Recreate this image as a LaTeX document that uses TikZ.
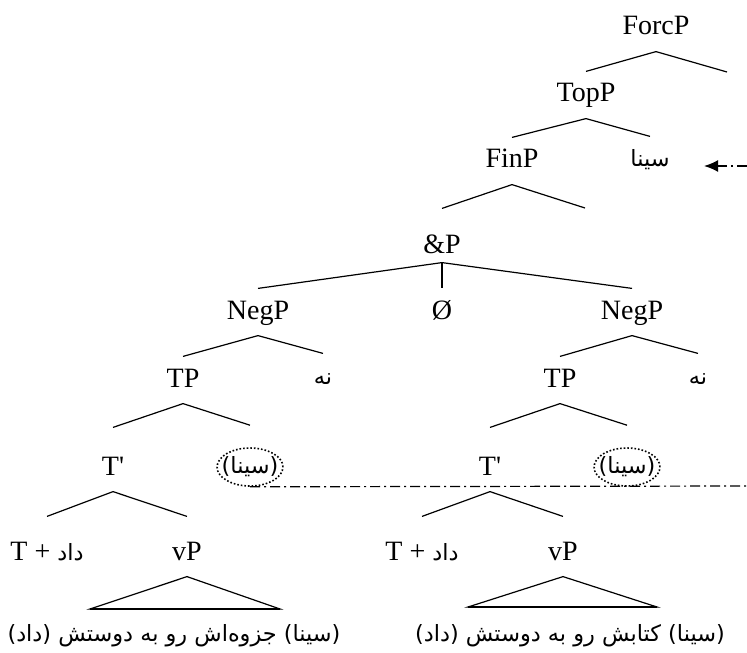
\documentclass[tikz,border=0pt]{standalone}
\usepackage{fontspec}
\setmainfont{Liberation Serif}
\newfontfamily\fafont[Script=Arabic]{DejaVu Sans}
\TeXXeTstate=1
\usetikzlibrary{arrows.meta,shapes.geometric}
\newcommand\fatext[1]{{\fafont\fontsize{11.2}{13}\selectfont\beginR #1\endR}}
\tikzset{
  cat/.style={
    anchor=base,
    inner sep=0pt,
    text height=15pt,
    text depth=8pt
  },
  tall cat/.style={
    cat,
    text height=23.5pt
  },
  low cat/.style={
    cat,
    text height=21.5pt
  },
  trace/.style={
    draw,
    shape=ellipse,
    densely dotted,
    line width=0.8pt,
    inner xsep=-2.5pt,
    inner ysep=0pt,
    minimum width=32pt,
    minimum height=19pt
  },
  move/.style={
    dash pattern=on 5pt off 2pt on 1pt off 2pt
  }
}

\begin{document}
\begin{tikzpicture}[x=0.5pt, y=-0.5pt, font=\fontsize{14}{16}\selectfont, line width=0.6pt]
   \useasboundingbox (0,0) rectangle (747,652);

   % top of the tree
   \node[cat] (ForcP) at (656,35) {ForcP};
   \node[cat] (TopP) at (586,102) {TopP};
   \node[cat] (FinP) at (512,168) {FinP};
   \node[cat] (topic) at (650,167) {\fatext{سینا}};
   \node[cat, text height=22pt, text depth=4.5pt] (AndP) at (442,253) {\&P};
   \coordinate (forcR) at (727,72);
   \coordinate (finR) at (585,208);
   \coordinate (edgeT) at (747,166);

   % the two conjuncts
   \node[cat] (NegL) at (258,319) {NegP};
   \node[cat] (Empty) at (442,319) {Ø};
   \node[cat] (NegR) at (632,319) {NegP};
   \node[cat] (TPL) at (183,387) {TP};
   \node[cat] (nehL) at (323,384) {\fatext{نه}};
   \node[cat] (TPR) at (560,387) {TP};
   \node[cat] (nehR) at (698,384) {\fatext{نه}};
   \node[tall cat] (TbarL) at (113,475) {T\textquotesingle};
   \node[trace] (sinaL) at (250,467) {\fatext{(سینا)}};
   \node[tall cat] (TbarR) at (490,475) {T\textquotesingle};
   \node[trace] (sinaR) at (627,467) {\fatext{(سینا)}};
   \node[low cat] (TL) at (47,560) {T + \fatext{داد}};
   \node[low cat] (vPL) at (187,560) {vP};
   \node[low cat] (TR) at (422,560) {T + \fatext{داد}};
   \node[low cat] (vPR) at (563,560) {vP};
   \coordinate (triLa) at (90,609);
   \coordinate (triLb) at (280,609);
   \coordinate (triRa) at (468,607);
   \coordinate (triRb) at (657,607);
   \node[anchor=base] (sentL) at (174,641) {\fatext{(سینا) جزوه‌اش رو به دوستش (داد)}};
   \node[anchor=base] (sentR) at (570,641) {\fatext{(سینا) کتابش رو به دوستش (داد)}};
   \coordinate (edgeB) at (747,486);

\path (ForcP.south) edge (TopP.north)
                    edge (forcR)
      (TopP.south)  edge (FinP.north)
                    edge (topic.north)
      (FinP.south)  edge (AndP.north)
                    edge (finR)
      (AndP.south)  edge (NegL.north)
                    edge (Empty.north)
                    edge (NegR.north)
      (NegL.south)  edge (TPL.north)
                    edge (nehL.north)
      (NegR.south)  edge (TPR.north)
                    edge (nehR.north)
      (TPL.south)   edge (TbarL.north)
                    edge ([yshift=11pt]sinaL.north)
      (TPR.south)   edge (TbarR.north)
                    edge ([yshift=11pt]sinaR.north)
      (TbarL.south) edge (TL.north)
                    edge (vPL.north)
      (TbarR.south) edge (TR.north)
                    edge (vPR.north)
;
\draw (vPL.south) -- (triLb) -- (triLa) -- cycle;
\draw (vPR.south) -- (triRb) -- (triRa) -- cycle;
\draw[line width=1pt] (triLa) -- (triLb) (triRa) -- (triRb);

\draw[move] (sinaL.south) -- (edgeB);
\draw[move, -{Latex[length=7pt, width=6pt]}, shorten >=17pt] (edgeT) -- (edgeT -| topic.east);
\end{tikzpicture}
\end{document}
